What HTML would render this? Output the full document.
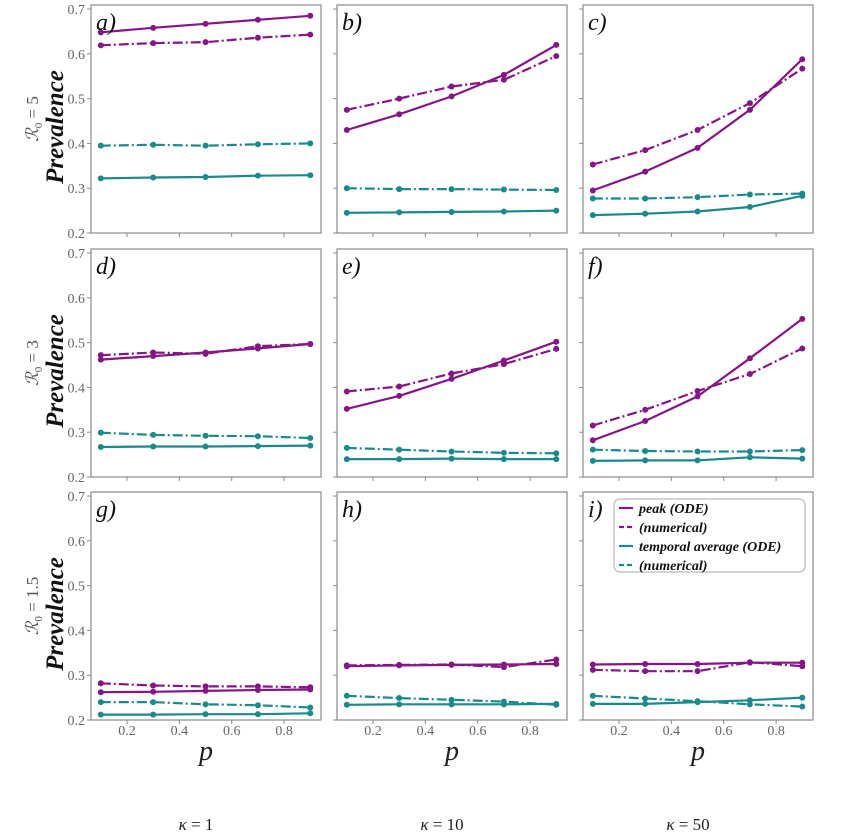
<!DOCTYPE html>
<html><head><meta charset="utf-8"><style>
body{margin:0;background:#fff;}
svg{display:block;font-family:"Liberation Serif",serif;}
</style></head><body>
<svg id="chart" width="845" height="840" viewBox="0 0 845 840" xmlns="http://www.w3.org/2000/svg"></svg>
<script>
const pValues = [0.1, 0.3, 0.5, 0.7, 0.9];
const yTicks = [0.2, 0.3, 0.4, 0.5, 0.6, 0.7];
const xTicks = [0.2, 0.4, 0.6, 0.8];
const panelLabels = ["a)", "b)", "c)", "d)", "e)", "f)", "g)", "h)", "i)"];
const rowLabels = ["5", "3", "1.5"];
const kappaLabels = ["1", "10", "50"];
const peakODE = [
  [0.648,0.658,0.667,0.676,0.685],
  [0.430,0.465,0.505,0.553,0.620],
  [0.295,0.337,0.390,0.475,0.588],
  [0.462,0.470,0.478,0.487,0.497],
  [0.352,0.381,0.419,0.460,0.502],
  [0.282,0.325,0.380,0.465,0.553],
  [0.262,0.263,0.265,0.267,0.268],
  [0.320,0.322,0.323,0.324,0.325],
  [0.324,0.325,0.325,0.328,0.328]
];
const peakNum = [
  [0.619,0.624,0.626,0.636,0.643],
  [0.475,0.500,0.527,0.542,0.595],
  [0.353,0.385,0.430,0.490,0.567],
  [0.472,0.478,0.475,0.492,0.497],
  [0.391,0.402,0.431,0.452,0.486],
  [0.315,0.350,0.392,0.430,0.487],
  [0.282,0.277,0.275,0.275,0.273],
  [0.322,0.323,0.324,0.318,0.335],
  [0.312,0.309,0.309,0.329,0.320]
];
const avgODE = [
  [0.322,0.324,0.325,0.328,0.329],
  [0.245,0.246,0.247,0.248,0.250],
  [0.240,0.243,0.248,0.258,0.283],
  [0.267,0.268,0.268,0.269,0.270],
  [0.240,0.240,0.241,0.240,0.240],
  [0.236,0.237,0.237,0.244,0.241],
  [0.212,0.212,0.213,0.213,0.215],
  [0.234,0.235,0.235,0.235,0.236],
  [0.236,0.236,0.240,0.244,0.250]
];
const avgNum = [
  [0.395,0.397,0.395,0.398,0.400],
  [0.300,0.298,0.298,0.297,0.296],
  [0.277,0.277,0.280,0.286,0.288],
  [0.299,0.294,0.292,0.291,0.287],
  [0.265,0.261,0.257,0.254,0.253],
  [0.261,0.258,0.257,0.257,0.260],
  [0.240,0.240,0.235,0.233,0.228],
  [0.254,0.249,0.245,0.241,0.234],
  [0.254,0.248,0.242,0.235,0.230]
];

const NS = "http://www.w3.org/2000/svg";
const svg = document.getElementById("chart");
const PURPLE = "#861586", TEAL = "#1b8a8a";
const colX = [91, 337, 583], rowY = [5, 249, 492];
const W = 230, H = 228;
const XMIN = 0.0625, XMAX = 0.941, YMIN = 0.2, YMAX = 0.709;
function mk(tag, attrs, parent) {
  const e = document.createElementNS(NS, tag);
  for (const k in attrs) e.setAttribute(k, attrs[k]);
  (parent || svg).appendChild(e);
  return e;
}
function xScale(v, x0) { return x0 + (v - XMIN) / (XMAX - XMIN) * W; }
function yScale(v, y0) { return y0 + H - (v - YMIN) / (YMAX - YMIN) * H; }

function drawSeries(g, vals, x0, y0, color, dashed, name) {
  const pts = vals.map((v, i) => xScale(pValues[i], x0).toFixed(1) + "," + yScale(v, y0).toFixed(1)).join(" ");
  const pl = mk("polyline", {points: pts, fill: "none", stroke: color, "stroke-width": 2.2}, g);
  if (dashed) pl.setAttribute("stroke-dasharray", "10 3 2 3");
  
  
  vals.forEach((v, i) => {
    const c = mk("circle", {cx: xScale(pValues[i], x0), cy: yScale(v, y0), r: 3, fill: color}, g);
    
    
  });
}

for (let r = 0; r < 3; r++) {
  for (let c = 0; c < 3; c++) {
    const idx = r * 3 + c, x0 = colX[c], y0 = rowY[r];
    const g = mk("g", {});
    
    
    const fr = mk("rect", {x: x0, y: y0, width: W, height: H, fill: "none", stroke: "#8a8a8a", "stroke-width": 1.2}, g);
    
    
    yTicks.forEach(t => {
      const yy = yScale(t, y0);
      mk("line", {x1: x0 - 4, x2: x0, y1: yy, y2: yy, stroke: "#8a8a8a", "stroke-width": 1}, g);
      if (c === 0) {
        const tl = mk("text", {x: x0 - 6, y: yy + 5, "text-anchor": "end", "font-size": 14, fill: "#666"}, g);
        tl.textContent = t.toFixed(1);
        
        
      }
    });
    xTicks.forEach(t => {
      const xx = xScale(t, x0);
      mk("line", {x1: xx, x2: xx, y1: y0 + H, y2: y0 + H + 4, stroke: "#8a8a8a", "stroke-width": 1}, g);
      if (r === 2) {
        const tl = mk("text", {x: xx, y: y0 + H + 15, "text-anchor": "middle", "font-size": 14, fill: "#666"}, g);
        tl.textContent = t.toFixed(1);
        
        
      }
    });
    drawSeries(g, avgNum[idx], x0, y0, TEAL, true, 'avg-numerical');
    drawSeries(g, avgODE[idx], x0, y0, TEAL, false, 'avg-ode');
    drawSeries(g, peakNum[idx], x0, y0, PURPLE, true, 'peak-numerical');
    drawSeries(g, peakODE[idx], x0, y0, PURPLE, false, 'peak-ode');
    const pl = mk("text", {x: x0 + 5, y: y0 + 25, "font-size": 24, "font-style": "italic", fill: "#111"}, g);
    pl.textContent = panelLabels[idx];
    
    
    if (r === 2) {
      const xl = mk("text", {x: x0 + W / 2, y: y0 + H + 40, "text-anchor": "middle", "font-size": 28, "font-style": "italic", fill: "#222"}, g);
      xl.textContent = "p";
      
      
      const kl = mk("text", {x: x0 + W / 2 - 10, y: 830, "text-anchor": "middle", "font-size": 17, fill: "#222"}, g);
      kl.innerHTML = '<tspan font-style="italic">κ</tspan> = ' + kappaLabels[c];
      
      
    }
  }
  const cy = rowY[r] + H / 2;
  const yl = mk("text", {x: 0, y: 0, transform: "translate(63," + (cy + 8) + ") rotate(-90)", "text-anchor": "middle", "font-size": 25, "font-weight": "bold", "font-style": "italic", fill: "#111"});
  yl.textContent = "Prevalence";
  
  
  const rl = mk("text", {x: 0, y: 0, transform: "translate(38," + cy + ") rotate(-90)", "text-anchor": "middle", "font-size": 17, fill: "#555"});
  rl.innerHTML = '<tspan font-style="italic">ℛ</tspan><tspan font-size="11" dy="4">0</tspan><tspan dy="-4"> = ' + rowLabels[r] + '</tspan>';
  
  
}

// legend in panel i
const lg = mk("g", {});


mk("rect", {x: 614, y: 499, width: 191, height: 73, rx: 6, fill: "#fff", stroke: "#aaa", "stroke-width": 1}, lg);
const legText = ["peak (ODE)", "(numerical)", "temporal average (ODE)", "(numerical)"];
const legColor = [PURPLE, PURPLE, TEAL, TEAL];
const legDash = [false, true, false, true];
legText.forEach((t, i) => {
  const yy = 508 + i * 19;
  const ln = mk("line", {x1: 619, x2: 633, y1: yy, y2: yy, stroke: legColor[i], "stroke-width": 2.2}, lg);
  if (legDash[i]) ln.setAttribute("stroke-dasharray", "5 3");
  
  
  const tx = mk("text", {x: 639, y: yy + 5, "font-size": 14, "font-weight": "bold", "font-style": "italic", fill: "#111"}, lg);
  tx.textContent = t;
  
  
});
</script>
</body></html>
